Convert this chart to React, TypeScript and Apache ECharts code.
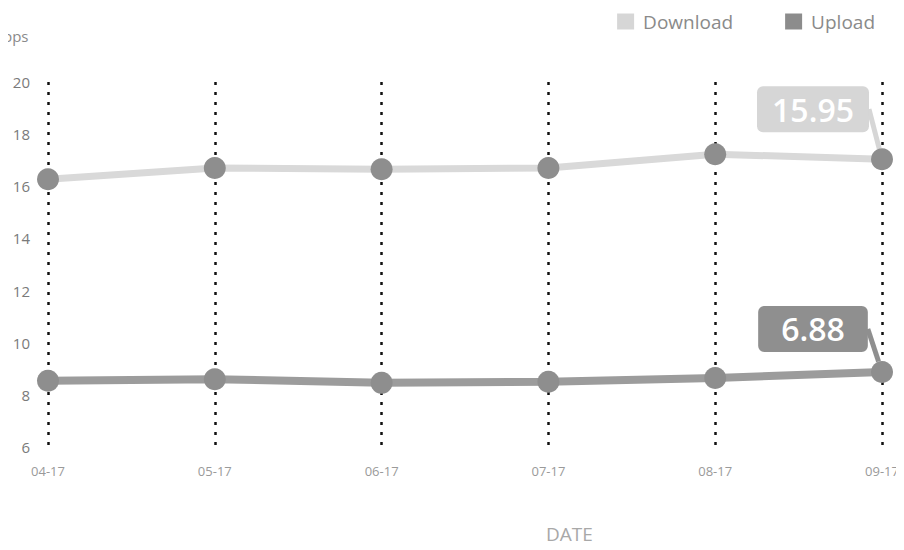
import React, { useEffect, useRef } from "react";
import * as echarts from "echarts";

const categories = ["04-17", "05-17", "06-17", "07-17", "08-17", "09-17"];
const downloadValues = [16.27, 16.7, 16.65, 16.7, 17.23, 17.04];
const uploadValues = [8.54, 8.6, 8.46, 8.5, 8.65, 8.88];
const downloadCallout = "15.95";
const uploadCallout = "6.88";
const yTicks = { min: 6, max: 20, interval: 2 };

const FONT = "Open Sans";

function withLastLabel(values: number[], text: string, bg: string, padX: number) {
  const last = values.length - 1;
  return values.map((v, i) =>
    i === last
      ? {
          value: v,
          label: {
            show: true,
            position: "top",
            formatter: () => text,
            color: "#ffffff",
            fontSize: 32,
            fontFamily: FONT,
            fontWeight: 600,
            backgroundColor: bg,
            borderRadius: 6,
            padding: [4, padX, 4, padX],
            lineHeight: 38,
          },
          labelLine: { show: true, lineStyle: { color: bg, width: 5 } },
        }
      : v
  );
}

export default function App() {
  const ref = useRef<HTMLDivElement>(null);
  useEffect(() => {
    if (!ref.current) return;
    const chart = echarts.init(ref.current, null, { renderer: "svg" });
    chart.setOption({
      animation: false,
      backgroundColor: "#ffffff",
      textStyle: { fontFamily: FONT },
      grid: { left: 48, right: 22, top: 82, bottom: 103 },
      legend: {
        top: 7,
        right: 24,
        icon: "rect",
        itemWidth: 17,
        itemHeight: 16,
        itemGap: 52,
        textStyle: {
          color: "#8a8a8a",
          fontSize: 19,
          fontFamily: FONT,
          padding: [0, 0, 0, 4],
        },
        data: [
          { name: "Download", itemStyle: { color: "#d6d6d6" } },
          { name: "Upload", itemStyle: { color: "#8c8c8c" } },
        ],
      },
      xAxis: {
        type: "category",
        data: categories,
        boundaryGap: false,
        axisLine: { show: false },
        axisTick: { show: false },
        axisLabel: { color: "#9a9a9a", fontSize: 13, margin: 17 },
        splitLine: {
          show: true,
          lineStyle: { color: "#111111", width: 2.5, type: [3, 7] },
        },
      },
      yAxis: {
        type: "value",
        min: yTicks.min,
        max: yTicks.max,
        interval: yTicks.interval,
        axisLine: { show: false },
        axisTick: { show: false },
        splitLine: { show: false },
        axisLabel: { color: "#7a7a7a", fontSize: 15, margin: 18 },
      },
      graphic: [
        {
          type: "text",
          left: 3,
          top: 28,
          style: { text: "bps", fill: "#8a8a8a", fontSize: 15, fontFamily: FONT },
        },
        {
          type: "text",
          left: 546,
          top: 524,
          style: { text: "DATE", fill: "#a8a8a8", fontSize: 19, fontFamily: FONT },
        },
      ],
      series: [
        {
          name: "Download",
          type: "line",
          data: withLastLabel(downloadValues, downloadCallout, "#d6d6d6", 15),
          symbol: "circle",
          symbolSize: 22,
          itemStyle: { color: "#8e8e8e" },
          lineStyle: { color: "#d9d9d9", width: 7 },
          labelLayout: { dx: -69, dy: -11 },
          z: 3,
        },
        {
          name: "Upload",
          type: "line",
          data: withLastLabel(uploadValues, uploadCallout, "#8f8f8f", 23),
          symbol: "circle",
          symbolSize: 22,
          itemStyle: { color: "#8e8e8e" },
          lineStyle: { color: "#9c9c9c", width: 8 },
          labelLayout: { dx: -69, dy: -4 },
          z: 3,
        },
      ],
    });
    return () => chart.dispose();
  }, []);
  return <div ref={ref} style={{ width: 904, height: 550, margin: -8 }} />;
}
